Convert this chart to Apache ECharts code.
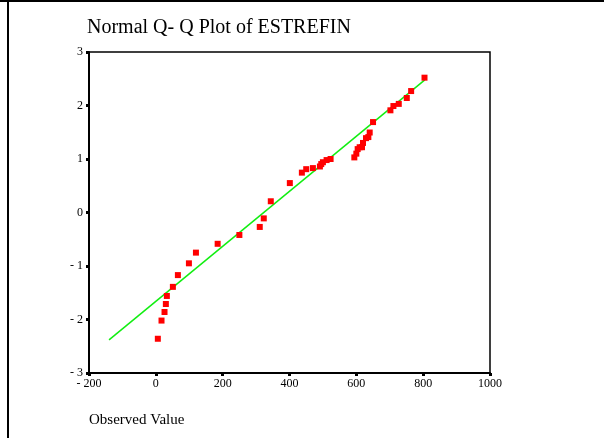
<!DOCTYPE html>
<html>
<head>
<meta charset="utf-8">
<script src="https://cdn.jsdelivr.net/npm/echarts@6/dist/echarts.min.js"></script>
<style>
  html, body { margin: 0; padding: 0; background: #fff; }
  #chart { width: 604px; height: 438px; }
</style>
</head>
<body>
<div id="chart"></div>
<script>
// Observed values of ESTREFIN and their expected normal scores
const observed = [6, 17, 26, 30, 33, 51, 66, 99, 120, 185, 250, 311, 323, 344,
  401, 437, 450, 470, 491, 495, 500, 511, 523, 594, 600, 604, 610, 617, 620,
  629, 636, 640, 650, 702, 711, 727, 751, 764, 804];
const expected = [-2.36, -2.02, -1.86, -1.71, -1.56, -1.39, -1.17, -0.95, -0.75,
  -0.585, -0.42, -0.27, -0.11, 0.21, 0.55, 0.745, 0.81, 0.83, 0.86, 0.905, 0.94,
  0.98, 1.0, 1.03, 1.10, 1.185, 1.22, 1.22, 1.30, 1.39, 1.41, 1.495, 1.69, 1.91,
  1.99, 2.03, 2.14, 2.27, 2.52];

// Reference normal line end points
const lineObserved = [-140, 805];
const lineExpected = [-2.38, 2.48];

const xTicks = [-200, 0, 200, 400, 600, 800, 1000];
const yTicks = [-3, -2, -1, 0, 1, 2, 3];

const serif = '"Liberation Serif", "DejaVu Serif", serif';
const fmt = v => (v < 0 ? '- ' + Math.abs(v) : String(v));

const chart = echarts.init(document.getElementById('chart'), null, { renderer: 'canvas' });
chart.setOption({
  animation: false,
  backgroundColor: '#fff',
  title: {
    text: 'Normal Q- Q Plot of ESTREFIN',
    left: 87,
    top: 18,
    padding: 0,
    textStyle: { fontFamily: serif, fontSize: 20, fontWeight: 'normal', color: '#000' }
  },
  graphic: [
    { type: 'rect', shape: { x: 0, y: 0, width: 604, height: 2 }, style: { fill: '#000' } },
    { type: 'rect', shape: { x: 7, y: 0, width: 2, height: 438 }, style: { fill: '#000' } },
    {
      type: 'text', left: 89, top: 413,
      style: { text: 'Observed Value', font: '15px ' + serif, fill: '#000' }
    }
  ],
  grid: {
    left: 89, top: 52, right: 114, bottom: 65,
    show: true, borderColor: '#000', borderWidth: 1.5, backgroundColor: '#fff'
  },
  xAxis: {
    type: 'value',
    min: xTicks[0], max: xTicks[xTicks.length - 1], interval: 200,
    splitLine: { show: false },
    axisLine: { show: true, onZero: false, lineStyle: { color: '#000', width: 2 } },
    axisTick: { show: true, inside: false, length: 3, lineStyle: { color: '#000', width: 3 } },
    axisLabel: { fontFamily: serif, fontSize: 12, color: '#000', margin: 5, formatter: fmt }
  },
  yAxis: {
    type: 'value',
    min: yTicks[0], max: yTicks[yTicks.length - 1], interval: 1,
    splitLine: { show: false },
    axisLine: { show: true, onZero: false, lineStyle: { color: '#000', width: 2 } },
    axisTick: { show: true, inside: false, length: 3, lineStyle: { color: '#000', width: 3 } },
    axisLabel: { fontFamily: serif, fontSize: 12, color: '#000', margin: 6, formatter: fmt }
  },
  series: [
    {
      type: 'line',
      data: lineObserved.map((x, i) => [x, lineExpected[i]]),
      symbol: 'none',
      lineStyle: { color: '#11ee11', width: 1.5 },
      z: 2
    },
    {
      type: 'scatter',
      data: observed.map((x, i) => [x, expected[i]]),
      symbol: 'rect',
      symbolSize: 6,
      itemStyle: { color: '#ff0000', opacity: 1 },
      z: 3
    }
  ]
});
</script>
</body>
</html>
